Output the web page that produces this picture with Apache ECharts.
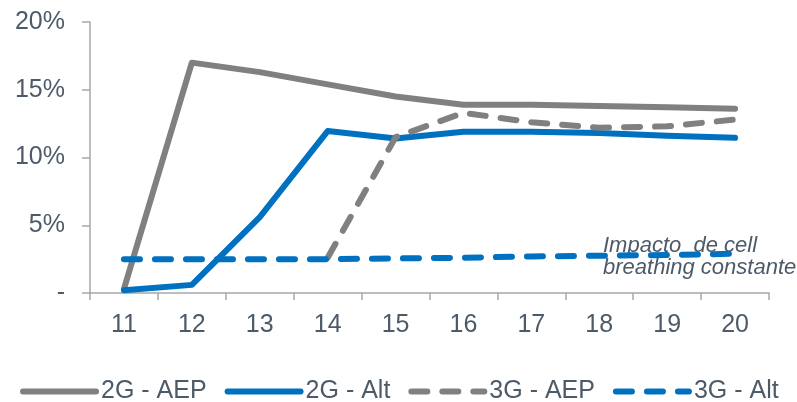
<!DOCTYPE html>
<html>
<head>
<meta charset="utf-8">
<script src="https://cdn.jsdelivr.net/npm/echarts@6/dist/echarts.min.js"></script>
<style>
  html, body { margin: 0; padding: 0; background: #fff; }
  #chart { width: 797px; height: 402px; }
</style>
</head>
<body>
<div id="chart"></div>
<script>
// Years on the x axis
const years = ['11', '12', '13', '14', '15', '16', '17', '18', '19', '20'];
// Series values, in percent
const aep2g = [0.3, 17.0, 16.3, 15.4, 14.5, 13.9, 13.9, 13.8, 13.7, 13.6];
const alt2g = [0.2, 0.6, 5.6, 11.95, 11.4, 11.9, 11.9, 11.8, 11.6, 11.45];
const aep3g = [null, null, null, 2.6, 11.5, 13.3, 12.6, 12.2, 12.3, 12.8];
const alt3g = [2.5, 2.5, 2.5, 2.5, 2.55, 2.6, 2.7, 2.75, 2.8, 2.9];
const seriesNames = ['2G - AEP', '2G - Alt', '3G - AEP', '3G - Alt'];
const noteText = 'Impacto  de cell\nbreathing constante';

const GRAY = '#808080';
const BLUE = '#0070C0';
const TEXT = '#4d5b69';
const AXIS = '#a5a8ab';
const FONT = 'Liberation Sans, Arial, sans-serif';
const DASH = [16, 15];

const chart = echarts.init(document.getElementById('chart'), null, { renderer: 'canvas' });

function lineSeries(name, data, color, dashed) {
  return {
    name: name,
    type: 'line',
    data: data,
    symbol: 'none',
    connectNulls: false,
    animation: false,
    lineStyle: {
      color: color,
      width: 6,
      type: dashed ? DASH : 'solid',
      cap: 'round',
      join: 'round'
    },
    itemStyle: { color: color }
  };
}

chart.setOption({
  animation: false,
  textStyle: { fontFamily: FONT },
  grid: { left: 90, right: 28, top: 22, bottom: 109, containLabel: false },
  legend: {
    left: 15,
    top: 374,
    itemWidth: 73,
    itemHeight: 6,
    itemGap: 18,
    data: seriesNames,
    // line-only legend keys: thick stroke, hidden marker dot
    lineStyle: { width: 6, cap: 'round' },
    itemStyle: { opacity: 0 },
    textStyle: { color: TEXT, fontSize: 25, fontFamily: FONT }
  },
  xAxis: {
    type: 'category',
    data: years,
    boundaryGap: true,
    axisLine: { lineStyle: { color: AXIS, width: 1.5 } },
    axisTick: { show: true, length: 7, interval: 0, lineStyle: { color: AXIS, width: 1.5 } },
    axisLabel: { color: TEXT, fontSize: 25, margin: 20, fontFamily: FONT }
  },
  yAxis: {
    type: 'value',
    min: 0,
    max: 20,
    interval: 5,
    splitLine: { show: false },
    axisLine: { show: true, lineStyle: { color: AXIS, width: 1.5 } },
    axisTick: { show: true, length: 8, lineStyle: { color: AXIS, width: 1.5 } },
    axisLabel: {
      color: TEXT,
      fontSize: 25,
      margin: 25,
      fontFamily: FONT,
      formatter: function (v) { return v === 0 ? '-' : v + '%'; }
    }
  },
  graphic: [{
    type: 'text',
    left: 603,
    top: 235,
    style: {
      text: noteText,
      fill: TEXT,
      font: 'italic 22px ' + FONT,
      lineHeight: 22
    }
  }],
  series: [
    lineSeries(seriesNames[0], aep2g, GRAY, false),
    lineSeries(seriesNames[1], alt2g, BLUE, false),
    lineSeries(seriesNames[2], aep3g, GRAY, true),
    lineSeries(seriesNames[3], alt3g, BLUE, true)
  ]
});
</script>
</body>
</html>
